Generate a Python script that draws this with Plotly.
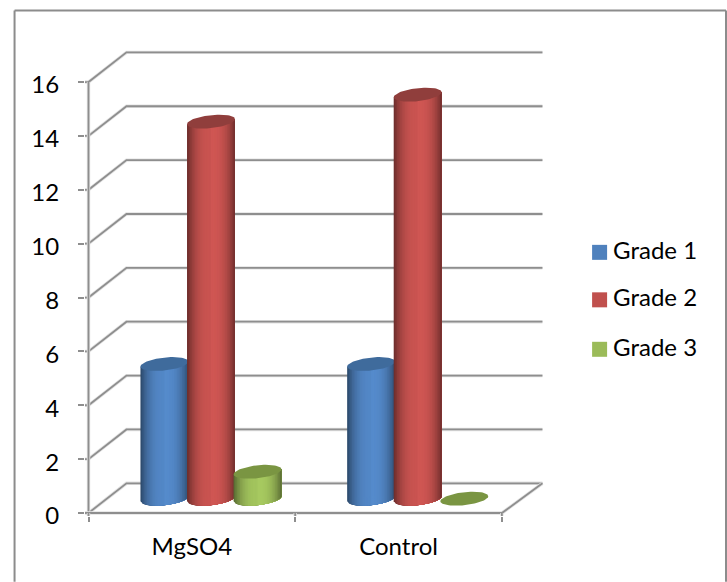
import numpy as np
import plotly.graph_objects as go

categories = ["MgSO4", "Control"]
series_names = ["Grade 1", "Grade 2", "Grade 3"]
grade_1 = [5, 5]
grade_2 = [14, 15]
grade_3 = [1, 0]
y_ticks = [0, 2, 4, 6, 8, 10, 12, 14, 16]

series_values = [grade_1, grade_2, grade_3]
base_colors = [(79, 129, 189), (192, 80, 77), (155, 187, 89)]
top_colors = ["#3f6b9c", "#903e3c", "#7a9542"]

W, H = 727, 582
X0, XU = 88.0, 206.85      # pixel of x=0, pixels per category
Y0, YU = 513.3, 26.95      # pixel of y=0, pixels per value unit
LEFT, BOTTOM = 84.5, 516.3
xmin = (LEFT - X0) / XU
xmax = (W - X0) / XU
ymin = (Y0 - BOTTOM) / YU
ymax = Y0 / YU
def px_x(p): return (p - X0) / XU
def px_y(p): return (Y0 - p) / YU

wall_dx = 38 / XU
wall_dy = 29.7 / YU
back_end = px_x(542.3)
GRID = "#8e8e8e"
HALO = "#e2e2e2"
FONT = "Lato"
FS = 24

fig = go.Figure()

def grid_line(xs, ys):
    for color, width in ((HALO, 3.4), (GRID, 1.8)):
        fig.add_trace(go.Scatter(x=xs, y=ys, mode="lines", showlegend=False, hoverinfo="skip",
                                 line=dict(color=color, width=width, shape="linear")))

for v in y_ticks:
    grid_line([xmin, 0, wall_dx, back_end], [v, v, v + wall_dy, v + wall_dy])
grid_line([0, 0], [0, y_ticks[-1]])
grid_line([xmin, 2, back_end], [0, 0, wall_dy])
for i in range(len(categories) + 1):
    grid_line([i, i], [ymin, 0])

R = 24 / XU
B = 6.5 / YU
SHEAR = 2.5 / YU
GROUP_CENTER = 122.6 / XU
STEP = 46.6 / XU
BASE = 14.3 / YU
N = 30

def shade(rgb, t):
    f = 0.58 + 0.50 * (1 - abs(t) ** 2.6)
    if t < 0:
        f -= 0.03
    return "rgb(%d,%d,%d)" % tuple(min(255, int(c * f)) for c in rgb)

for s, (name, values) in enumerate(zip(series_names, series_values)):
    rgb = base_colors[s]
    for c, val in enumerate(values):
        cx = c + GROUP_CENTER + (s - 1) * STEP
        top = BASE + val
        if val > 0:
            edges = np.linspace(-1, 1, N + 1)
            for a, b in zip(edges[:-1], edges[1:]):
                ts = np.linspace(a, 1, 40)      # each band runs to the right edge, painted left to right
                xs = cx + R * ts
                low = BASE - B * np.sqrt(np.clip(1 - ts ** 2, 0, 1)) + SHEAR * ts
                upp = top + SHEAR * ts
                col = shade(rgb, (a + b) / 2)
                fig.add_trace(go.Scatter(
                    x=np.r_[xs, xs[::-1]], y=np.r_[low, upp[::-1]], mode="lines", fill="toself",
                    fillcolor=col, line=dict(width=0),
                    showlegend=False, hoverinfo="skip"))
        th = np.linspace(0, 2 * np.pi, 73)
        fig.add_trace(go.Scatter(
            x=cx + R * np.cos(th), y=top + B * np.sin(th) + SHEAR * np.cos(th),
            mode="lines", fill="toself", fillcolor=top_colors[s],
            line=dict(width=0), showlegend=False, hoverinfo="skip"))

legend_px_y = [252.5, 300, 349.5]
for s, name in enumerate(series_names):
    fig.add_trace(go.Scatter(
        x=[px_x(599.5)], y=[px_y(legend_px_y[s])], mode="markers", name=name,
        marker=dict(symbol="square", size=15, color="rgb(%d,%d,%d)" % base_colors[s]),
        showlegend=False, hoverinfo="skip"))
    fig.add_trace(go.Scatter(
        x=[px_x(613)], y=[px_y(legend_px_y[s] + 0.5)], mode="text", text=[name], name=name,
        textposition="middle right", textfont=dict(family=FONT, size=FS, color="#000000"),
        showlegend=False, hoverinfo="skip"))

def pa_x(p): return (p - LEFT) / (W - LEFT)
def pa_y(p): return (BOTTOM - p) / BOTTOM
frame = [(14, H), (14, 10.5), (726, 10.5), (726, H)]
for (x1, y1), (x2, y2) in zip(frame[:-1], frame[1:]):
    fig.add_shape(type="line", xref="paper", yref="paper", x0=pa_x(x1), x1=pa_x(x2),
                  y0=pa_y(y1), y1=pa_y(y2), line=dict(color="#8c8c8c", width=2), layer="below")

fig.update_layout(
    width=W, height=H, paper_bgcolor="white", plot_bgcolor="white", showlegend=False,
    margin=dict(l=LEFT, r=0, t=0, b=H - BOTTOM, pad=0, autoexpand=False),
    font=dict(family=FONT, size=FS, color="#000000"),
    xaxis=dict(range=[xmin, xmax], showgrid=False, zeroline=False, showline=False,
               tickmode="array", tickvals=[i + 0.5 for i in range(len(categories))],
               ticktext=categories, ticks="", ticklabelstandoff=14,
               minor=dict(tickmode="array", tickvals=[0, 1, 2], ticks="outside", ticklen=5,
                          tickcolor=GRID, tickwidth=2, showgrid=False)),
    yaxis=dict(range=[ymin, ymax], showgrid=False, zeroline=False, showline=False,
               tickmode="array", tickvals=y_ticks, ticks="outside", ticklen=6,
               tickcolor=GRID, tickwidth=2, ticklabelstandoff=14, ticklabelshift=3),
)

fig.write_html("out.html", config=dict(displayModeBar=False),
               post_script="document.body.style.margin='0';document.body.style.overflow='hidden';")
